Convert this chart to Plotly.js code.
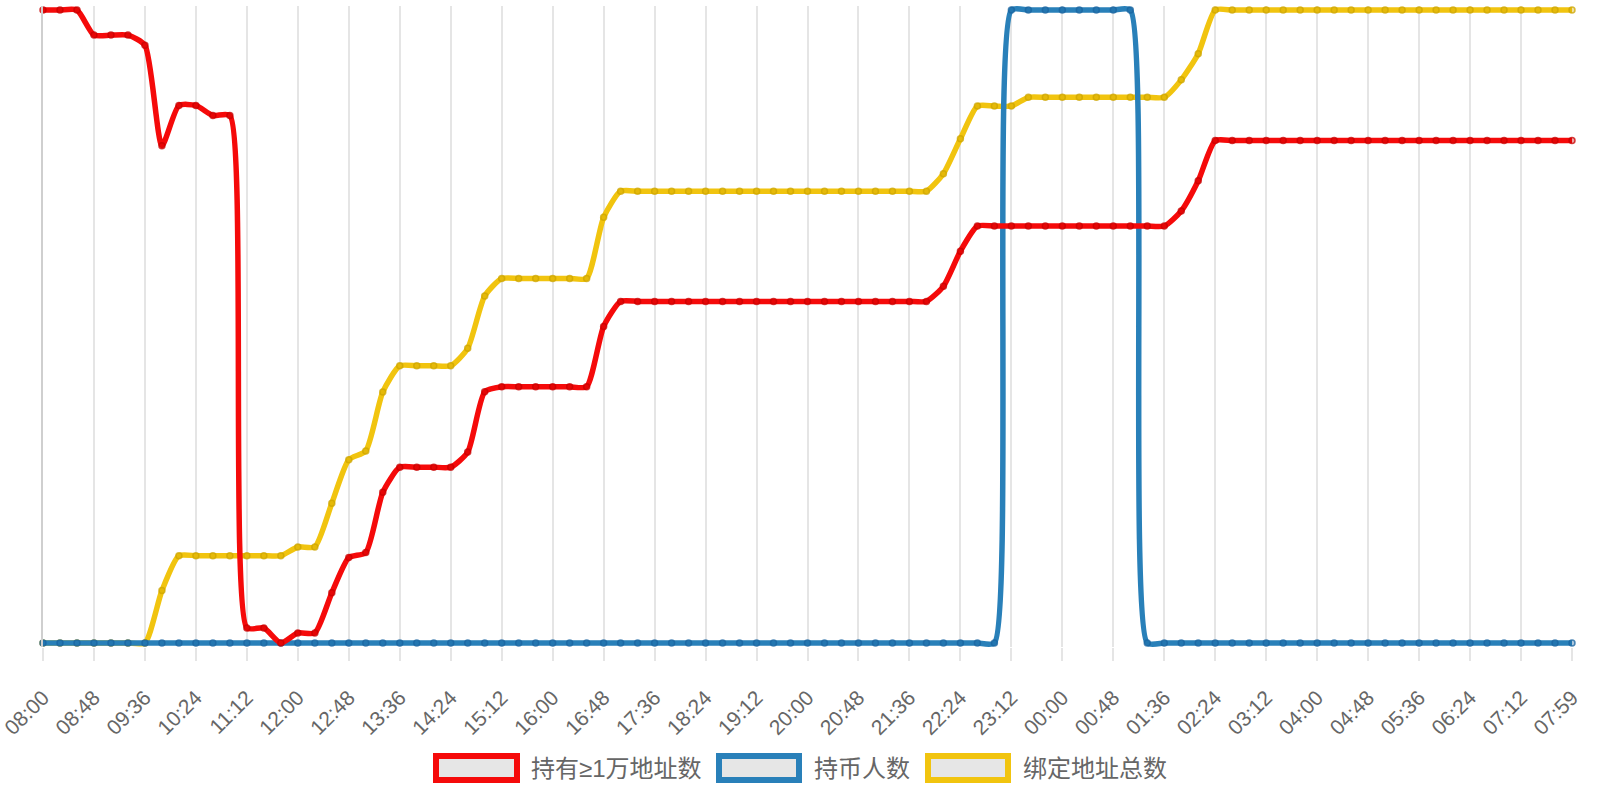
<!DOCTYPE html>
<html>
<head>
<meta charset="utf-8">
<script src="https://cdn.plot.ly/plotly-3.0.1.min.js"></script>
<style>
  html, body { margin: 0; padding: 0; background: #fff; }
  #chart { width: 1600px; height: 800px; }
</style>
</head>
<body>
<div id="chart"></div>
<script>
// time axis, one point every 16 min
var times = ["08:00","08:16","08:32","08:48","09:04","09:20","09:36","09:52","10:08","10:24",
  "10:40","10:56","11:12","11:28","11:44","12:00","12:16","12:32","12:48","13:04",
  "13:20","13:36","13:52","14:08","14:24","14:40","14:56","15:12","15:28","15:44",
  "16:00","16:16","16:32","16:48","17:04","17:20","17:36","17:52","18:08","18:24",
  "18:40","18:56","19:12","19:28","19:44","20:00","20:16","20:32","20:48","21:04",
  "21:20","21:36","21:52","22:08","22:24","22:40","22:56","23:12","23:28","23:44",
  "00:00","00:16","00:32","00:48","01:04","01:20","01:36","01:52","02:08","02:24",
  "02:40","02:56","03:12","03:28","03:44","04:00","04:16","04:32","04:48","05:04",
  "05:20","05:36","05:52","06:08","06:24","06:40","06:56","07:12","07:28","07:44","07:59"];

// 持有≥1万地址数
var bigHolders = [1306,1306,1306,1301,1301,1301,1299,1279,1287,1287,
  1285,1285,1183,1183,1180,1182,1182,1190,1197,1198,
  1210,1215,1215,1215,1215,1218,1230,1231,1231,1231,
  1231,1231,1231,1243,1248,1248,1248,1248,1248,1248,
  1248,1248,1248,1248,1248,1248,1248,1248,1248,1248,
  1248,1248,1248,1251,1258,1263,1263,1263,1263,1263,
  1263,1263,1263,1263,1263,1263,1263,1266,1272,1280,
  1280,1280,1280,1280,1280,1280,1280,1280,1280,1280,
  1280,1280,1280,1280,1280,1280,1280,1280,1280,1280,1280];

// 持币人数
var holders = [0,0,0,0,0,0,0,0,0,0,
  0,0,0,0,0,0,0,0,0,0,
  0,0,0,0,0,0,0,0,0,0,
  0,0,0,0,0,0,0,0,0,0,
  0,0,0,0,0,0,0,0,0,0,
  0,0,0,0,0,0,0,1,1,1,
  1,1,1,1,1,0,0,0,0,0,
  0,0,0,0,0,0,0,0,0,0,
  0,0,0,0,0,0,0,0,0,0,0];

// 绑定地址总数
var bound = [3120,3120,3120,3120,3120,3120,3120,3144,3160,3160,
  3160,3160,3160,3160,3160,3164,3164,3184,3204,3208,
  3235,3247,3247,3247,3247,3255,3279,3287,3287,3287,
  3287,3287,3287,3315,3327,3327,3327,3327,3327,3327,
  3327,3327,3327,3327,3327,3327,3327,3327,3327,3327,
  3327,3327,3327,3335,3351,3366,3366,3366,3370,3370,
  3370,3370,3370,3370,3370,3370,3370,3378,3390,3410,
  3410,3410,3410,3410,3410,3410,3410,3410,3410,3410,
  3410,3410,3410,3410,3410,3410,3410,3410,3410,3410,3410];

var names = ["持有≥1万地址数", "持币人数", "绑定地址总数"];
var RED = "rgb(245,10,10)", BLUE = "rgb(41,128,185)", YELLOW = "rgb(241,196,15)";

// page geometry (px)
var ML = 43, MR = 28, MT = 6, MB = 153;
var PW = 1600 - ML - MR, PH = 800 - MT - MB;
function px(x) { return (x - ML) / PW; }
function py(y) { return (800 - MB - y) / PH; }

// each series has its own hidden scale, a few px of room at both ends
function padRange(arr) {
  var lo = Math.min.apply(null, arr), hi = Math.max.apply(null, arr);
  var p = (hi - lo) * 4 / 633;
  return [lo - p, hi + p];
}

function series(y, name, color, axis, dot) {
  return {
    x: times, y: y, name: name, yaxis: axis,
    type: "scatter", mode: "lines+markers", cliponaxis: false,
    line: { color: color, width: 5.5, shape: "spline", smoothing: 0.6 },
    marker: { size: 6, color: "rgba(" + dot + ",0.35)", line: { color: "rgba(" + dot + ",0.75)", width: 1.5 } },
    hoverinfo: "x+y+name"
  };
}

var traces = [
  series(bound, names[2], YELLOW, "y", "205,165,0"),
  series(holders, names[1], BLUE, "y2", "25,100,160"),
  series(bigHolders, names[0], RED, "y3", "200,0,0")
];

var tickTimes = times.filter(function(t, i) { return i % 3 === 0; });

var hidden = { showticklabels: false, showgrid: false, zeroline: false, ticks: "", fixedrange: true };

// legend drawn by hand: thick bordered grey boxes
var legendItems = [
  { box: [436, 517], text: 529, color: RED, label: names[0] },
  { box: [719, 799], text: 812, color: BLUE, label: names[1] },
  { box: [928, 1008], text: 1021, color: YELLOW, label: names[2] }
];
var shapes = [], annotations = [];
legendItems.forEach(function(it) {
  shapes.push({
    type: "rect", xref: "paper", yref: "paper",
    x0: px(it.box[0]), x1: px(it.box[1]), y0: py(780), y1: py(756),
    line: { color: it.color, width: 6 }, fillcolor: "#e6e6e6", layer: "above"
  });
  annotations.push({
    xref: "paper", yref: "paper", x: px(it.text), y: py(768),
    xanchor: "left", yanchor: "middle", showarrow: false, text: it.label,
    font: { family: "Liberation Sans, Noto Sans CJK SC, sans-serif", size: 24, color: "#666" }
  });
});

var layout = {
  width: 1600, height: 800,
  margin: { l: ML, r: MR, t: MT, b: MB, pad: 0 },
  paper_bgcolor: "#fff", plot_bgcolor: "#fff",
  showlegend: false,
  xaxis: {
    type: "category", range: [0, times.length - 1],
    tickmode: "array", tickvals: tickTimes, ticktext: tickTimes,
    tickangle: -45, ticks: "outside", ticklen: 13, tickwidth: 1.5, tickcolor: "#e5e5e5",
    ticklabelstandoff: 16,
    showgrid: true, gridcolor: "#e5e5e5", gridwidth: 1.5,
    zeroline: false, showline: false,
    tickfont: { family: "Liberation Sans, Arial, sans-serif", size: 21, color: "#666" }
  },
  yaxis: Object.assign({ range: padRange(bound), showline: true, linecolor: "#cfcfcf", linewidth: 1.5 }, hidden),
  yaxis2: Object.assign({ range: padRange(holders), overlaying: "y" }, hidden),
  yaxis3: Object.assign({ range: padRange(bigHolders), overlaying: "y" }, hidden),
  shapes: shapes,
  annotations: annotations
};

Plotly.newPlot("chart", traces, layout, { displayModeBar: false });
</script>
</body>
</html>
